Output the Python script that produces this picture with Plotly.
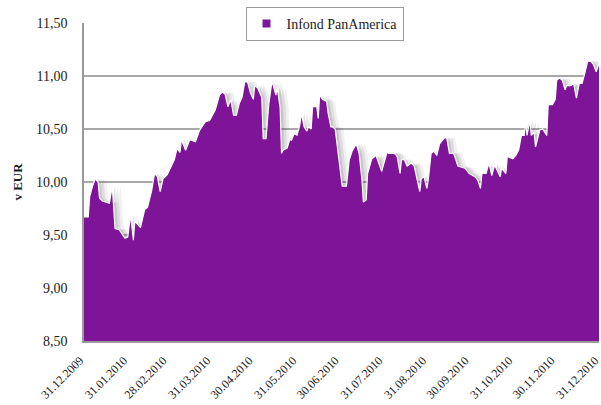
import pandas as pd
import plotly.graph_objects as go

# ---- data ----
start_date = "2009-12-31"
day_offsets = [0, 3, 4, 6, 8, 10, 11, 13, 18, 20, 21, 22, 25, 29, 31, 33, 35, 36, 40, 43,
               45, 48, 50, 52, 54, 56, 59, 62, 64, 66, 68, 69, 72, 75, 79, 82, 86, 89, 93, 96,
               98, 100, 102, 104, 106, 108, 110, 112, 114, 116, 118, 120, 121, 123, 126, 127, 129, 131, 133, 134,
               136, 137, 139, 140, 141, 144, 146, 147, 149, 151, 153, 154, 156, 158, 159, 161, 162, 165, 166, 167,
               169, 172, 173, 175, 176, 178, 180, 181, 183, 186, 188, 190, 193, 195, 197, 198, 200, 201, 204, 207,
               209, 211, 212, 215, 216, 220, 222, 224, 225, 227, 229, 232, 234, 236, 238, 239, 241, 243, 244, 246,
               248, 250, 252, 255, 257, 259, 262, 265, 267, 270, 273, 277, 279, 281, 282, 285, 287, 289, 291, 293,
               295, 296, 299, 300, 304, 306, 308, 310, 312, 313, 314, 316, 317, 319, 320, 323, 325, 328, 329, 332,
               334, 335, 337, 339, 341, 342, 345, 347, 349, 351, 353, 355, 357, 359, 361, 363, 364, 365]
nav = [9.67, 9.67, 9.86, 9.96, 10.03, 10.00, 9.85, 9.82, 9.80, 9.96, 9.77, 9.56, 9.55, 9.47, 9.48, 9.69, 9.45, 9.63, 9.57, 9.74,
       9.76, 9.92, 10.08, 10.05, 9.91, 10.03, 10.07, 10.16, 10.21, 10.32, 10.28, 10.40, 10.30, 10.40, 10.38, 10.49, 10.57, 10.58, 10.68, 10.82,
       10.85, 10.83, 10.71, 10.78, 10.63, 10.63, 10.74, 10.80, 10.95, 10.94, 10.84, 10.78, 10.91, 10.89, 10.80, 10.41, 10.41, 10.74, 10.93, 10.92,
       10.82, 10.89, 10.70, 10.27, 10.30, 10.32, 10.41, 10.39, 10.46, 10.44, 10.54, 10.65, 10.52, 10.48, 10.52, 10.50, 10.71, 10.71, 10.60, 10.82,
       10.78, 10.76, 10.65, 10.52, 10.52, 10.50, 10.27, 10.14, 9.96, 9.96, 10.21, 10.29, 10.36, 10.27, 10.02, 9.81, 9.83, 10.08, 10.22, 10.25,
       10.17, 10.10, 10.15, 10.29, 10.27, 10.27, 10.24, 10.08, 10.21, 10.21, 10.15, 10.18, 10.15, 10.02, 9.91, 10.03, 10.05, 9.94, 10.02, 10.27,
       10.29, 10.25, 10.36, 10.41, 10.42, 10.27, 10.27, 10.15, 10.14, 10.13, 10.08, 10.05, 10.02, 9.94, 10.08, 10.08, 10.18, 10.06, 10.16, 10.11,
       10.05, 10.13, 10.08, 10.24, 10.22, 10.25, 10.30, 10.44, 10.44, 10.57, 10.44, 10.58, 10.44, 10.47, 10.33, 10.49, 10.50, 10.44, 10.73, 10.73,
       10.78, 10.96, 10.98, 10.96, 10.87, 10.91, 10.91, 10.93, 10.79, 10.93, 10.93, 11.03, 11.14, 11.14, 11.11, 11.04, 11.09, 11.12]
series_name = "Infond PanAmerica"
tick_dates = ["2009-12-31", "2010-01-31", "2010-02-28", "2010-03-31", "2010-04-30", "2010-05-31",
              "2010-06-30", "2010-07-31", "2010-08-31", "2010-09-30", "2010-10-31", "2010-11-30", "2010-12-31"]
tick_labels = ["31.12.2009", "31.01.2010", "28.02.2010", "31.03.2010", "30.04.2010", "31.05.2010",
               "30.06.2010", "31.07.2010", "31.08.2010", "30.09.2010", "31.10.2010", "30.11.2010", "31.12.2010"]
y_title = "v EUR"

purple = "#7E1498"
font_family = "Liberation Serif"

dates = pd.Timestamp(start_date) + pd.to_timedelta(day_offsets, unit="D")

fig = go.Figure()

# soft drop shadow (offset copies)
for shift, alpha in [(6, 0.07), (4, 0.10), (2, 0.14)]:
    fig.add_trace(go.Scatter(
        x=dates + pd.Timedelta(days=shift), y=nav, mode="lines",
        line=dict(width=0, color="rgba(0,0,0,0)"),
        fill="tozeroy", fillcolor=f"rgba(60,60,60,{alpha})",
        showlegend=False, hoverinfo="skip"))

fig.add_trace(go.Scatter(
    x=dates, y=nav, mode="lines", name=series_name,
    line=dict(width=1.2, color="white"),
    fill="tozeroy", fillcolor=purple, showlegend=False))

# legend marker
fig.add_trace(go.Scatter(
    x=[None], y=[None], mode="markers", name=series_name,
    marker=dict(symbol="square", size=8, color=purple)))

fig.update_layout(
    width=601, height=405,
    margin=dict(l=84, r=2, t=23, b=64, autoexpand=False),
    paper_bgcolor="white", plot_bgcolor="white",
    separators=", ",
    font=dict(family=font_family, size=13, color="#222"),
    showlegend=True,
    legend=dict(x=0.467, y=0.997, xanchor="center", yanchor="middle",
                bgcolor="white", bordercolor="#999", borderwidth=1,
                font=dict(family=font_family, size=14, color="#222"),
                itemwidth=30, tracegroupgap=0),
)

fig.update_xaxes(
    type="date",
    range=[pd.Timestamp(tick_dates[0]), pd.Timestamp(tick_dates[-1])],
    tickvals=pd.to_datetime(tick_dates), ticktext=tick_labels,
    tickangle=-45, tickfont=dict(family=font_family, size=12, color="#222"),
    showgrid=False, showline=True, linecolor="#9a9a9a", linewidth=1.5,
    ticks="", zeroline=False, ticklabelstandoff=6, ticklabelshift=-4,
    automargin=False, ticklabeloverflow="allow",
)
fig.update_yaxes(
    range=[8.5, 11.5], dtick=0.5, tick0=8.5, tickformat=".2f",
    tickfont=dict(family=font_family, size=14, color="#222"),
    showgrid=True, gridcolor="#a8a8a8", gridwidth=1.5,
    showline=True, linecolor="#9a9a9a", linewidth=1.5,
    ticks="", zeroline=False, ticklabelstandoff=12, automargin=False,
    title=dict(text="<b>" + y_title + "</b>", standoff=10,
               font=dict(family=font_family, size=13, color="#222")),
)

fig.write_html("out.html", config={"displayModeBar": False},
               post_script="document.body.style.margin='0';document.body.style.overflow='hidden';")
